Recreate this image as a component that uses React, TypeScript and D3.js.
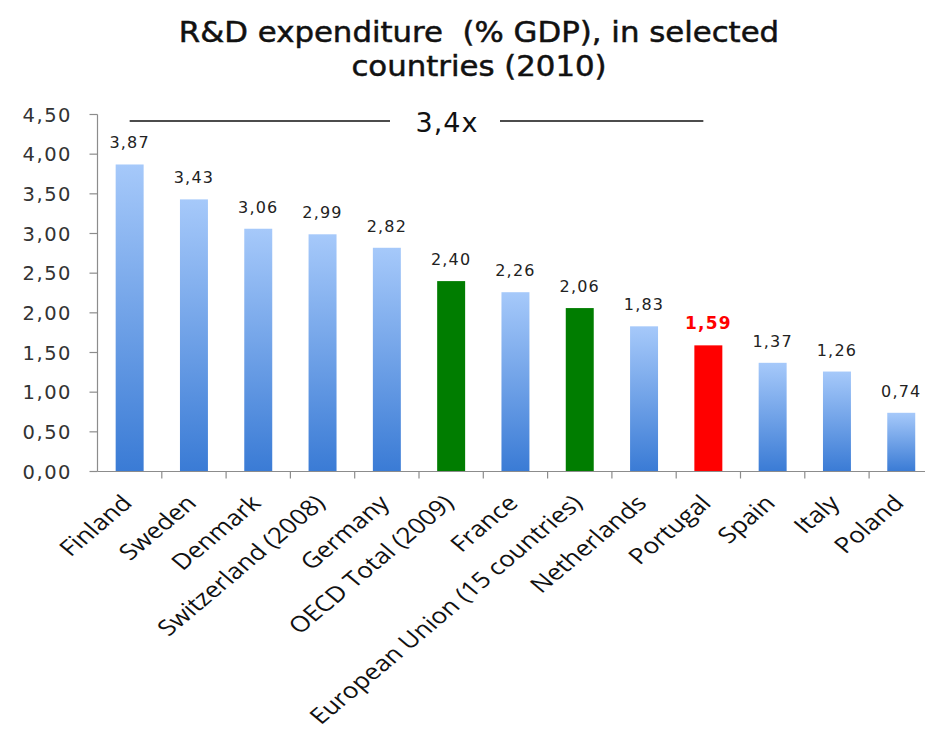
import React from "react";
import * as d3 from "d3";

const categories = [
  "Finland",
  "Sweden",
  "Denmark",
  "Switzerland (2008)",
  "Germany",
  "OECD Total (2009)",
  "France",
  "European Union (15 countries)",
  "Netherlands",
  "Portugal",
  "Spain",
  "Italy",
  "Poland",
];
const values = [3.87, 3.43, 3.06, 2.99, 2.82, 2.4, 2.26, 2.06, 1.83, 1.59, 1.37, 1.26, 0.74];
const barKinds = ["blue", "blue", "blue", "blue", "blue", "green", "blue", "green", "blue", "red", "blue", "blue", "blue"];
const yTicks = [0, 0.5, 1, 1.5, 2, 2.5, 3, 3.5, 4, 4.5];
const titleLines = ["R&D expenditure  (% GDP), in selected", "countries (2010)"];
const ratioLabel = "3,4x";
const ratioFrom = "Finland";
const ratioTo = "Portugal";

const W = 925;
const H = 747;
const x0 = 97.5;
const step = 64.3;
const yBottom = 471.5;
const yTop = 114.5;
const stretch = 1.19;

const fmt = (v: number) => v.toFixed(2).replace(".", ",");

export default function App() {
  const x = d3
    .scaleBand<string>()
    .domain(categories)
    .range([x0, x0 + step * categories.length])
    .paddingInner(0.565)
    .paddingOuter(0.2825);
  const y = d3.scaleLinear().domain([0, 4.5]).range([yBottom, yTop]);
  const bw = x.bandwidth();
  const s = x.step();
  const fillFor = (k: string) =>
    k === "green" ? "#007d00" : k === "red" ? "#ff0000" : "url(#blueGrad)";
  const lineX1 = (x(ratioFrom) as number) + bw / 2;
  const lineX2 = (x(ratioTo) as number) + bw / 2 - 5;
  const textCx = 447;

  return (
    <svg
      width={W}
      height={H}
      style={{ position: "absolute", left: 0, top: 0, background: "#fff" }}
    >
      <defs>
        <linearGradient id="blueGrad" x1="0" y1="0" x2="0" y2="1">
          <stop offset="0%" stopColor="#a6c9fa" />
          <stop offset="100%" stopColor="#3a7bd5" />
        </linearGradient>
      </defs>
      {/* Title */}
      {titleLines.map((t, i) => (
        <text
          key={i}
          transform={`translate(479,${42 + i * 34}) scale(1.1,1)`}
          textAnchor="middle"
          fontFamily="DejaVu Sans"
          fontSize={28}
          fill="#111"
          stroke="#111"
          strokeWidth={0.5}
          style={{ whiteSpace: "pre" }}
        >
          {t}
        </text>
      ))}
      {/* Ratio annotation */}
      <line x1={lineX1} x2={390} y1={121} y2={121} stroke="#111" strokeWidth={1.5} />
      <line x1={500} x2={lineX2} y1={121} y2={121} stroke="#111" strokeWidth={1.5} />
      <text
        x={textCx}
        y={132}
        textAnchor="middle"
        fontFamily="DejaVu Sans"
        fontSize={27}
        fill="#111"
        letterSpacing={1}
      >
        {ratioLabel}
      </text>
      {/* Bars */}
      {categories.map((c, i) => (
        <rect
          key={c}
          x={x(c)}
          y={y(values[i])}
          width={bw}
          height={yBottom - y(values[i])}
          fill={fillFor(barKinds[i])}
        />
      ))}
      {/* Value labels */}
      {categories.map((c, i) => (
        <text
          key={c}
          x={(x(c) as number) + bw / 2}
          y={y(values[i]) - 16}
          textAnchor="middle"
          fontFamily="DejaVu Sans"
          fontSize={barKinds[i] === "red" ? 17 : 16}
          fontWeight={barKinds[i] === "red" ? "bold" : "normal"}
          fill={barKinds[i] === "red" ? "#ff0000" : "#222"}
          letterSpacing={1.2}
        >
          {fmt(values[i])}
        </text>
      ))}
      {/* Y axis */}
      <line x1={x0} x2={x0} y1={yTop} y2={yBottom} stroke="#8c8c8c" strokeWidth={1.2} />
      {yTicks.map((t) => (
        <g key={t}>
          <line x1={x0 - 8} x2={x0} y1={y(t)} y2={y(t)} stroke="#8c8c8c" strokeWidth={1.2} />
          <text
            x={72}
            y={y(t)}
            dy="0.36em"
            textAnchor="end"
            fontFamily="DejaVu Sans"
            fontSize={19.5}
            fill="#333"
            letterSpacing={1.5}
          >
            {fmt(t)}
          </text>
        </g>
      ))}
      {/* X axis */}
      <line x1={x0} x2={W} y1={yBottom} y2={yBottom} stroke="#8c8c8c" strokeWidth={1.2} />
      {categories.map((c, i) => (
        <line
          key={c}
          x1={x0 + s * (i + 1)}
          x2={x0 + s * (i + 1)}
          y1={yBottom}
          y2={yBottom + 7}
          stroke="#8c8c8c"
          strokeWidth={1.2}
        />
      ))}
      {categories.map((c) => {
        const cx = (x(c) as number) + bw / 2;
        return (
          <text
            key={c}
            transform={`translate(${cx + 4},${yBottom + 33}) scale(${stretch},1) rotate(-45)`}
            textAnchor="end"
            fontFamily="Open Sans"
            fontSize={22}
            fill="#111"
          >
            {c}
          </text>
        );
      })}
    </svg>
  );
}
